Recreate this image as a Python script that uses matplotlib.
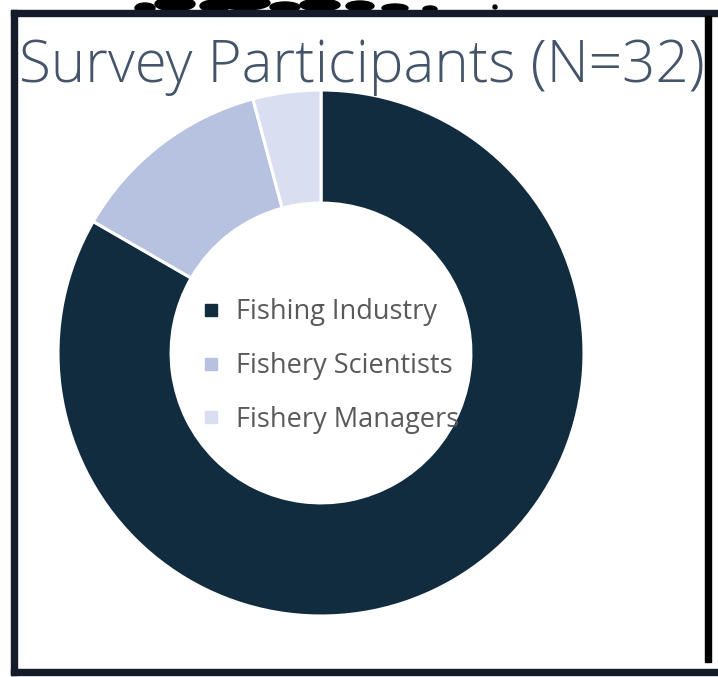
import matplotlib
matplotlib.use("Agg")
import matplotlib.pyplot as plt
from matplotlib.patches import Rectangle, Ellipse
from matplotlib.lines import Line2D

categories = ["Fishing Industry", "Fishery Scientists", "Fishery Managers"]
values = [20, 3, 1]
colors = ["#122c3f", "#b6c2df", "#d9dff0"]
title = "Survey Participants (N=32)"

W, H = 718, 677
fig = plt.figure(figsize=(W / 100, H / 100), dpi=100)
fig.patch.set_facecolor("white")

def px(x, y):
    return x / W, 1 - y / H

def rect(x0, y0, x1, y1, col, z=1):
    # pixel box, y measured from the top
    fig.patches.append(Rectangle(px(x0, y1), (x1 - x0) / W, (y1 - y0) / H,
                                 transform=fig.transFigure, color=col, zorder=z))

# decorative background fragments above the frame
for (ex, ey, ew, eh) in [(145, 8, 20, 10), (175, 4, 40, 14), (215, 6, 30, 12),
                         (245, 3, 50, 14), (285, 7, 30, 10), (320, 5, 40, 12),
                         (360, 6, 28, 10), (395, 8, 26, 8), (430, 9, 14, 6),
                         (495, 7, 4, 4)]:
    fig.patches.append(Ellipse(px(ex, ey), ew / W, eh / H, transform=fig.transFigure,
                               color="black", zorder=0))

# decorative frame
frame_col = "#161b2a"
rect(11, 10, 17, 675, frame_col)
rect(11, 10, 718, 16, frame_col)
rect(11, 669, 718, 675, frame_col)
rect(705, 16, 711, 662, "black")

# donut
cx, cy, r = 321, 353, 263
ax = fig.add_axes([(cx - r) / W, (H - cy - r) / H, 2 * r / W, 2 * r / H])
wedges, _ = ax.pie(values, colors=colors, startangle=90, counterclock=False,
                   radius=1, wedgeprops=dict(width=0.43, edgecolor="white", linewidth=2.2))
ax.set_xlim(-1, 1)
ax.set_ylim(-1, 1)
ax.set_aspect("equal")
ax.axis("off")

fig.text(362 / W, 1 - 82 / H, title, ha="center", va="baseline",
         fontsize=42, color="#44546a", family="Open Sans", fontweight="light")

handles = [Line2D([], [], marker="s", linestyle="none", markersize=8,
                  markerfacecolor=c, markeredgecolor=c) for c in colors]
leg = fig.legend(handles, categories, loc="center left",
                 bbox_to_anchor=(174 / W, 1 - 366 / H), frameon=False,
                 prop=dict(family="Open Sans", size=19.5), labelcolor="#595959",
                 labelspacing=0.95, handletextpad=0.5, handlelength=0.9)

fig.savefig("out.png", dpi=100, facecolor="white")
